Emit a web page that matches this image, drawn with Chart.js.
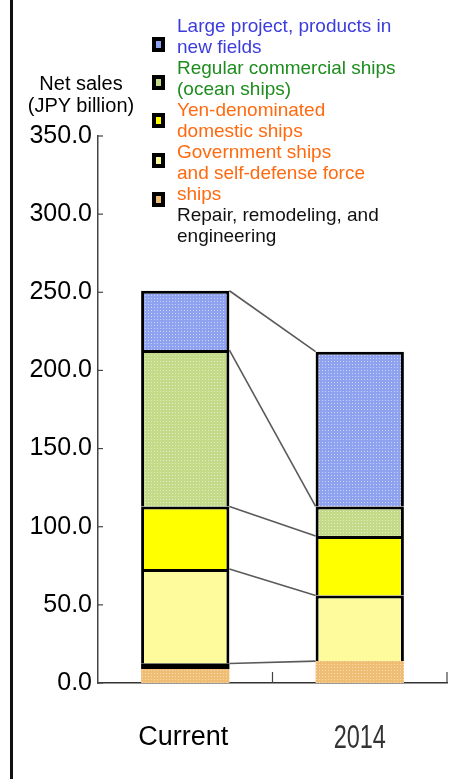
<!DOCTYPE html>
<html>
<head>
<meta charset="utf-8">
<script src="https://cdn.jsdelivr.net/npm/chart.js@4.4.1/dist/chart.umd.min.js"></script>
<style>
    body { margin: 0; background: #fff; font-family: 'Liberation Sans', Arial, sans-serif; }
    #wrap { position: relative; width: 462px; height: 779px; overflow: hidden; }
    #frame { position: absolute; left: 10px; top: 0; width: 3px; height: 779px; background: #111; }
    #chart { position: absolute; left: 0; top: 0; }
    #ytitle { position: absolute; left: 19px; top: 72px; width: 124px; text-align: center; font-size: 20px; line-height: 22px; color: #000; }
    #legend { position: absolute; left: 177px; top: 15px; font-size: 19px; line-height: 21px; white-space: nowrap; }
    .mark { position: absolute; left: 152px; width: 13px; height: 15px; background: #000; }
    .mark span { position: absolute; left: 4px; top: 4px; width: 5px; height: 7px; }
</style>
</head>
<body>
<div id="wrap">
    <div id="frame"></div>
    <canvas id="chart" width="462" height="779"></canvas>
    <div id="ytitle">Net sales<br>(JPY billion)</div>
    <div id="legend"></div>
</div>
<script>
// categories and stacked values (JPY billion), bottom segment first
const categories = ['Current', '2014'];
const repair = [9, 14];
const blackBand = [3.5, null];
const government = [60.5, 42];
const yenDomestic = [40, 38];
const regularCommercial = [100, 19];
const largeProject = [38, 99];

const yMin = 0;
const yMax = 350;
const yStep = 50;

// legend text, top to bottom (lines as in the picture)
const legendLines = [
    ['Large project, products in', 'new fields'],
    ['Regular commercial ships', '(ocean ships)'],
    ['Yen-denominated', 'domestic ships'],
    ['Government ships', 'and self-defense force', 'ships'],
    ['Repair, remodeling, and', 'engineering']
];
const legendTextColors = ['#3c3cdc', '#1e8c1e', '#ff6a10', '#ff6a10', '#111'];
const legendMarkY = [37, 75, 113, 153, 192];

const ctx = document.getElementById('chart').getContext('2d');

function dotted(base, dot) {
    const c = document.createElement('canvas');
    c.width = 3; c.height = 3;
    const g = c.getContext('2d');
    g.fillStyle = base;
    g.fillRect(0, 0, 3, 3);
    g.fillStyle = dot;
    g.fillRect(1, 1, 1, 1);
    return ctx.createPattern(c, 'repeat');
}

const blueFill = dotted('#8ea2f0', '#c9d3fb');
const greenFill = dotted('#c3da88', '#e2edbf');
const orangeFill = dotted('#f0bd74', '#f8dbae');

// build legend
const legendFills = ['#8ea2f0', '#c3da88', '#ffff00', '#fdfb9c', '#f0bd74'];
const legendEl = document.getElementById('legend');
legendLines.forEach((lines, i) => {
    let d = document.createElement('div');
    d.style.color = legendTextColors[i];
    d.innerHTML = lines.join('<br>');
    legendEl.appendChild(d);

    let m = document.createElement('div');
    m.className = 'mark';
    m.style.top = legendMarkY[i] + 'px';
    let s = document.createElement('span');
    s.style.background = legendFills[i];
    m.appendChild(s);
    document.getElementById('wrap').appendChild(m);
});

/* ===== connector lines, inward ticks, category labels ===== */
const connectors = {
    id: 'connectors',
    afterDatasetsDraw(chart) {
        const c = chart.ctx;
        const y = chart.scales.y;
        const x = chart.scales.x;
        const m0 = chart.getDatasetMeta(0).data;
        const x1 = m0[0].x + m0[0].width / 2;
        const x2 = m0[1].x - m0[1].width / 2;

        // cumulative tops for each stack level
        const sums = [0, 0];
        const levels = [];
        chart.data.datasets.forEach((ds, i) => {
            sums[0] += ds.data[0] || 0;
            sums[1] += ds.data[1] || 0;
            if (i >= 1) levels.push([sums[0], sums[1]]);
        });

        c.save();
        c.strokeStyle = '#5a5a5a';
        c.lineWidth = 1.6;
        levels.forEach(l => {
            c.beginPath();
            c.moveTo(x1, y.getPixelForValue(l[0]));
            c.lineTo(x2, y.getPixelForValue(l[1]));
            c.stroke();
        });

        // small inward ticks
        c.strokeStyle = '#444';
        c.lineWidth = 1.2;
        y.ticks.forEach(t => {
            const py = y.getPixelForValue(t.value);
            c.beginPath();
            c.moveTo(y.right, py);
            c.lineTo(y.right + 5, py);
            c.stroke();
        });
        const mid = (x.left + x.right) / 2;
        [mid, x.right].forEach(px => {
            c.beginPath();
            c.moveTo(px, x.top);
            c.lineTo(px, x.top - 11);
            c.stroke();
        });

        // category labels: first in plain sans, second in a squeezed tall face
        chart.data.labels.forEach((lab, i) => {
            const px = x.getPixelForValue(i);
            c.textAlign = 'center';
            c.textBaseline = 'alphabetic';
            if (i === 0) {
                c.fillStyle = '#000';
                c.font = "27px 'Liberation Sans', Arial, sans-serif";
                c.fillText(lab, px - 2, x.top + 62);
            } else {
                c.save();
                c.fillStyle = '#333';
                c.font = "34px 'Liberation Sans', Arial, sans-serif";
                c.translate(px, x.top + 65);
                c.scale(0.69, 1);
                c.fillText(lab, 0, 0);
                c.restore();
            }
        });
        c.restore();
    }
};

const barOpts = {
    borderColor: '#000',
    borderWidth: 3,
    borderSkipped: 'start',
    barPercentage: 0.506,
    categoryPercentage: 1
};

const chart = new Chart(ctx, {
    type: 'bar',
    data: {
        labels: categories,
        datasets: [
            Object.assign({ label: 'Repair, remodeling, and engineering', data: repair, backgroundColor: orangeFill }, barOpts, { borderWidth: 0 }),
            Object.assign({ label: '', data: blackBand, backgroundColor: '#000' }, barOpts, { borderWidth: 0 }),
            Object.assign({ label: 'Government ships and self-defense force ships', data: government, backgroundColor: '#fdfb9c' }, barOpts),
            Object.assign({ label: 'Yen-denominated domestic ships', data: yenDomestic, backgroundColor: '#ffff00' }, barOpts),
            Object.assign({ label: 'Regular commercial ships (ocean ships)', data: regularCommercial, backgroundColor: greenFill }, barOpts),
            Object.assign({ label: 'Large project, products in new fields', data: largeProject, backgroundColor: blueFill }, barOpts)
        ]
    },
    options: {
        responsive: false,
        animation: false,
        layout: { padding: { left: 0, right: 15, top: 136, bottom: 0 } },
        plugins: {
            legend: { display: false },
            tooltip: { enabled: false }
        },
        scales: {
            x: {
                stacked: true,
                afterFit: s => { s.height = 96; },
                border: { color: '#333', width: 1.5 },
                grid: { display: false, drawTicks: false },
                ticks: { display: false }
            },
            y: {
                stacked: true,
                min: yMin,
                max: yMax,
                afterFit: s => { s.width = 98; },
                border: { color: '#444', width: 1.5 },
                grid: { display: false, drawTicks: false },
                ticks: {
                    stepSize: yStep,
                    padding: 6,
                    color: '#000',
                    font: { family: "'Liberation Sans', Arial, sans-serif", size: 25 },
                    callback: v => v.toFixed(1)
                }
            }
        }
    },
    plugins: [connectors]
});
</script>
</body>
</html>
